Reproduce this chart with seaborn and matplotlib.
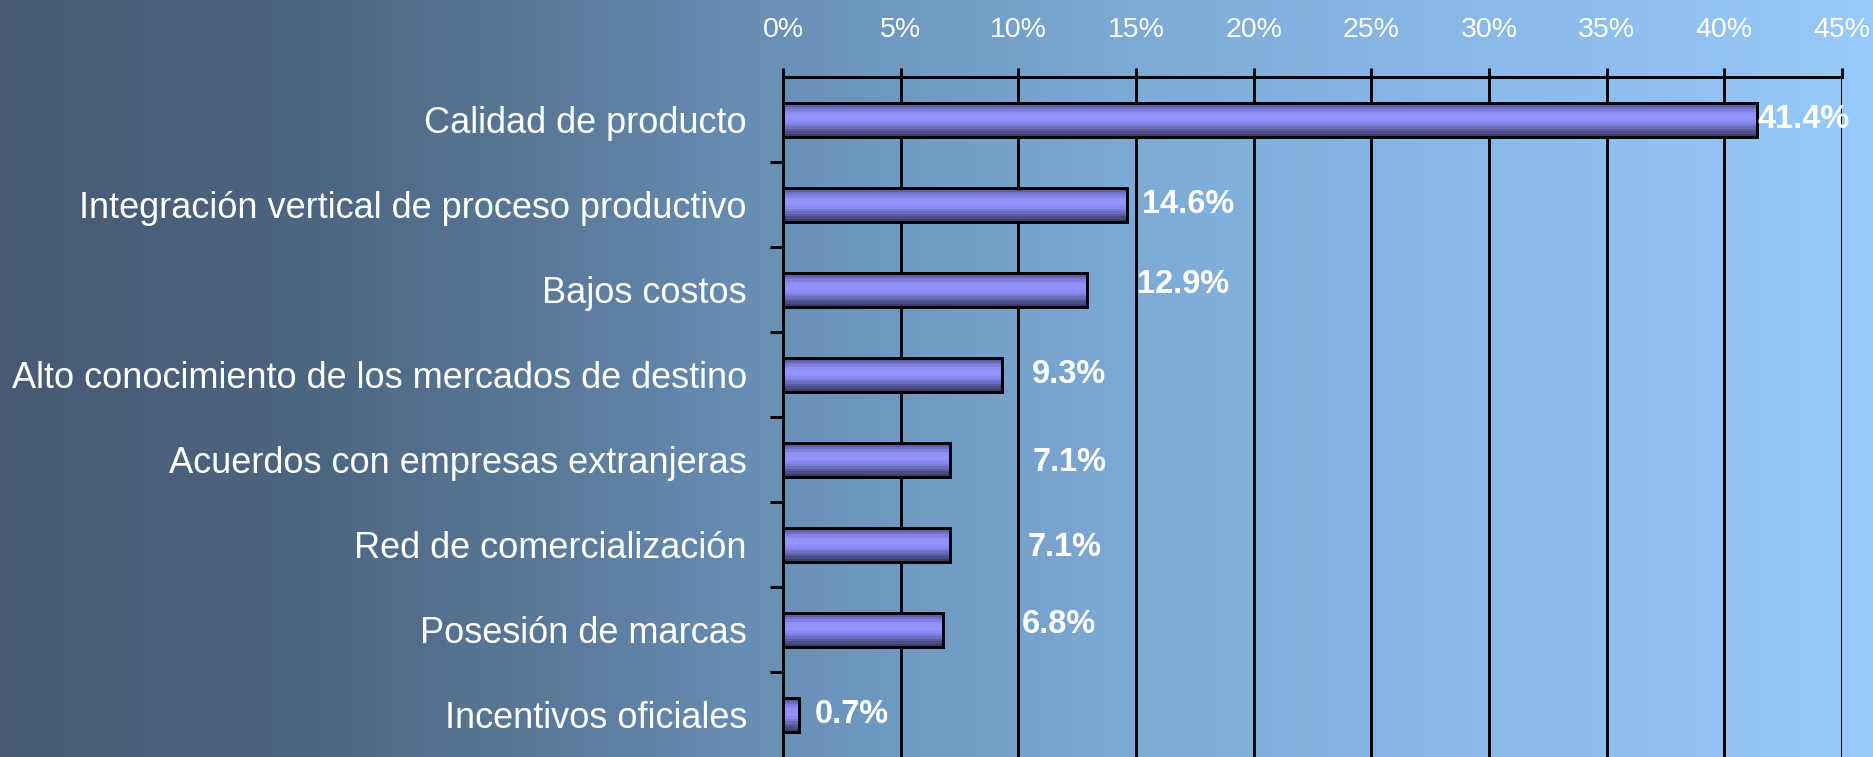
import numpy as np
import pandas as pd
import seaborn as sns
import matplotlib.pyplot as plt
from matplotlib.colors import LinearSegmentedColormap
from matplotlib.ticker import FuncFormatter

# datos del grafico
factores = ['Calidad de producto',
            'Integración vertical de proceso productivo',
            'Bajos costos',
            'Alto conocimiento de los mercados de destino',
            'Acuerdos con empresas extranjeras',
            'Red de comercialización',
            'Posesión de marcas',
            'Incentivos oficiales']
porcentajes = [41.4, 14.6, 12.9, 9.3, 7.1, 7.1, 6.8, 0.7]
ticks_x = [0, 5, 10, 15, 20, 25, 30, 35, 40, 45]

# corrimiento de las etiquetas de valor (en px)
desp_x = [0, 15, 50, 30, 83, 78, 79, 15]
desp_y = [0, 0, -5, 0, 3, 3, -5, 0]

df = pd.DataFrame({'factor': factores, 'pct': porcentajes})

sns.set_theme(style='white')
plt.rcParams['font.family'] = ['Liberation Sans', 'DejaVu Sans']

fig = plt.figure(figsize=(18.74, 7.57), dpi=100)

# fondo degradado
fondo = fig.add_axes([0, 0, 1, 1], zorder=-1)
cmap_fondo = LinearSegmentedColormap.from_list(
    'fondo', [(0, '#465a73'), (0.16, '#4c6580'), (0.32, '#5d7e9f'),
              (0.42, '#6a92b8'), (0.64, '#80aedb'), (1, '#97c9f9')])
fondo.imshow(np.linspace(0, 1, 512)[None, :], aspect='auto', cmap=cmap_fondo,
             extent=(0, 1, 0, 1))
fondo.axis('off')

ax = fig.add_axes([783 / 1874, 0, (1842 - 783) / 1874, 1 - 77 / 757])
ax.set_facecolor('none')
sns.barplot(data=df, x='pct', y='factor', orient='h', width=0.4, color='#8c8cf0',
            edgecolor='black', linewidth=2.1, ax=ax)

# degradado de las barras (efecto cilindro)
cmap_barra = LinearSegmentedColormap.from_list(
    'barra', ['#50508c', '#6e6ec4', '#8c8cf4', '#9696ff', '#9090fa',
              '#7878d4', '#5a5a9e', '#3e3e6c'])
grad = np.linspace(0, 1, 14)[:, None]
for barra in ax.patches:
    x, y, w, h = barra.get_x(), barra.get_y(), barra.get_width(), barra.get_height()
    im = ax.imshow(grad, cmap=cmap_barra, aspect='auto', interpolation='nearest',
                   extent=(x, x + w, y + h, y), zorder=2)
    im.set_clip_path(barra)
    barra.set_facecolor('none')
    barra.set_zorder(3)

ax.set_xlim(0, 45)
ax.set_ylim(7.5, -0.5)
ax.set_xlabel('')
ax.set_ylabel('')

# grilla y ejes
ax.set_axisbelow(True)
ax.grid(axis='x', color='black', linewidth=2.1)
ax.grid(axis='y', visible=False)
for s in ['right', 'bottom']:
    ax.spines[s].set_visible(False)
for s in ['top', 'left']:
    ax.spines[s].set_color('black')
    ax.spines[s].set_linewidth(2.1)

ax.xaxis.tick_top()
ax.set_xticks(ticks_x)
ax.xaxis.set_major_formatter(FuncFormatter(lambda v, p: f'{v:.0f}%'))
ax.tick_params(axis='x', which='major', top=True, bottom=False, length=6.5, width=2.1,
               color='black', labelsize=20.5, labelcolor='white', pad=18)

ax.set_yticks(range(len(factores)))
ax.set_yticklabels(factores)
ax.set_yticks(np.arange(0.5, 7.5, 1), minor=True)
ax.tick_params(axis='y', which='major', length=0, labelsize=26, labelcolor='white', pad=26)
ax.tick_params(axis='y', which='minor', left=True, length=9.4, width=2.1, color='black')

# etiquetas de valor
for i, v in enumerate(porcentajes):
    ax.annotate(f'{v:.1f}%', (v, i), xytext=(desp_x[i] * 0.72, -desp_y[i] * 0.72),
                textcoords='offset points', ha='left', va='center', color='white',
                fontsize=23.5, fontweight='bold')

fig.savefig('out.png', dpi=100)
